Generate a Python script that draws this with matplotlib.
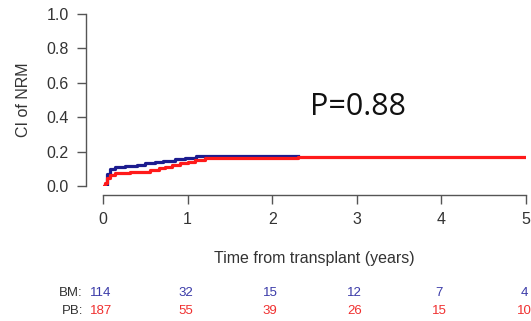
import matplotlib
matplotlib.use('Agg')
import matplotlib.pyplot as plt

plt.rcParams['font.family'] = ['Liberation Sans', 'DejaVu Sans']

# cumulative incidence of NRM, step curves (years, value)
bm_t = [0.0, 0.05, 0.08, 0.14, 0.26, 0.40, 0.50, 0.62, 0.71, 0.85, 0.97, 1.10, 2.30]
bm_ci = [0.0, 0.070, 0.099, 0.112, 0.118, 0.125, 0.132, 0.140, 0.147, 0.155, 0.161, 0.172, 0.172]

pb_t = [0.0, 0.02, 0.05, 0.08, 0.14, 0.32, 0.56, 0.66, 0.73, 0.82, 0.91, 1.00, 1.09, 1.20, 2.30, 5.0]
pb_ci = [0.0, 0.020, 0.045, 0.064, 0.074, 0.081, 0.093, 0.103, 0.112, 0.122, 0.132, 0.142, 0.151, 0.163, 0.170, 0.170]

risk_times = [0, 1, 2, 3, 4, 5]
bm_risk = [114, 32, 15, 12, 7, 4]
pb_risk = [187, 55, 39, 26, 15, 10]

blue = '#1c1c8f'
red = '#ff1a1a'
txt = '#333333'

fig = plt.figure(figsize=(5.31, 3.21), dpi=100)
ax = fig.add_axes([103/531, (321-186)/321, 423/531, 172/321])

ax.step(bm_t, bm_ci, where='post', color=blue, lw=2.3)
ax.step(pb_t, pb_ci, where='post', color=red, lw=2.3)

ax.set_xlim(0, 5)
ax.set_ylim(0, 1)
ax.set_xticks(risk_times)
ax.set_yticks([0, 0.2, 0.4, 0.6, 0.8, 1.0])
ax.set_yticklabels(['0.0', '0.2', '0.4', '0.6', '0.8', '1.0'])

for s in ['top', 'right']:
    ax.spines[s].set_visible(False)
# outward offsets are in points (17 px and 9 px)
ax.spines['left'].set_position(('outward', 12.2))
ax.spines['bottom'].set_position(('outward', 6.5))
ax.spines['left'].set_bounds(0, 1)
ax.spines['bottom'].set_bounds(0, 5)
for s in ['left', 'bottom']:
    ax.spines[s].set_color('#555555')
    ax.spines[s].set_linewidth(1.0)
ax.tick_params(colors='#555555', labelcolor=txt, labelsize=11.5, length=6.5, width=1.0, pad=6)

ax.set_ylabel('CI of NRM', fontsize=11.5, color=txt, labelpad=11)
fig.text(314/531, 1 - 258/321, 'Time from transplant (years)', fontsize=11.5,
         color=txt, ha='center', va='center')

ax.text(0.49, 0.46, 'P=0.88', transform=ax.transAxes, fontsize=22,
        family='Open Sans', color='#111111', ha='left', va='center')

# numbers at risk
fig.text(83/531, 1 - 293/321, 'BM:', fontsize=9.5, color=txt, ha='right', va='center')
fig.text(83/531, 1 - 311/321, 'PB:', fontsize=9.5, color=txt, ha='right', va='center')
for t, b, p in zip(risk_times, bm_risk, pb_risk):
    xf = (103 + t * 84.6 - 2) / 531
    fig.text(xf, 1 - 293/321, str(b), fontsize=9.5, color='#3a3aa8', ha='center', va='center')
    fig.text(xf, 1 - 311/321, str(p), fontsize=9.5, color='#f03030', ha='center', va='center')

fig.savefig('out.png', dpi=100)
